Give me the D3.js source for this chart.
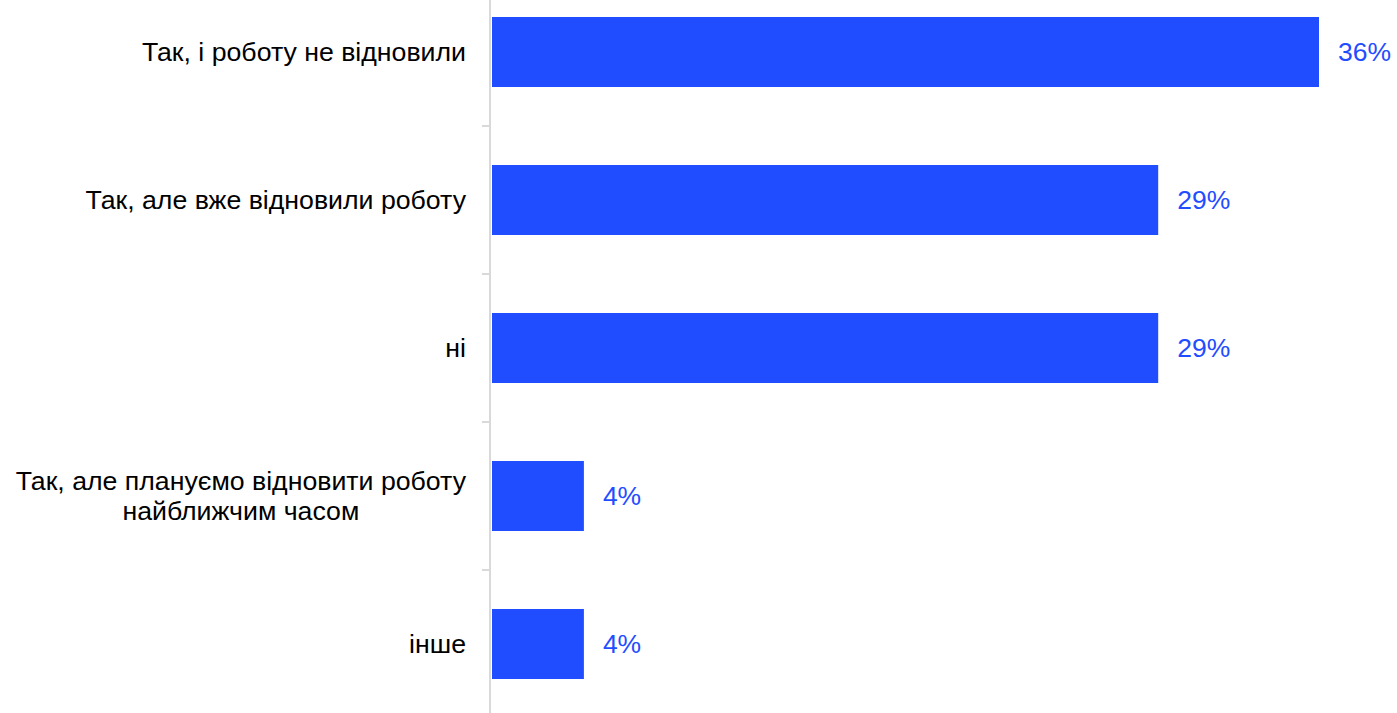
<!DOCTYPE html>
<html>
<head>
<meta charset="utf-8">
<script src="https://cdn.jsdelivr.net/npm/d3@7"></script>
<style>
  html, body { margin: 0; padding: 0; background: #fff; }
  svg { display: block; font-family: "Liberation Sans", Arial, sans-serif; }
</style>
</head>
<body>
<svg id="chart" width="1397" height="713"></svg>
<script>
// Survey answers, top to bottom
const categories = [
  ["Так, і роботу не відновили"],
  ["Так, але вже відновили роботу"],
  ["ні"],
  ["Так, але плануємо відновити роботу", "найближчим часом"],
  ["інше"]
];
const shares = [36, 29, 29, 4, 4];

const W = 1397, H = 713;
const axisX = 490;
const barColor = "#1f4dff";
const labelSize = 26.7;
const valueSize = 26.5;

const svg = d3.select("#chart");

const keys = categories.map((c, i) => i);

const y = d3.scaleBand()
  .domain(keys)
  .range([-22, 718])
  .paddingInner(0.527)
  .paddingOuter(0.2635);

const x = d3.scaleLinear()
  .domain([0, 36])
  .range([axisX + 2, 1319]);

// Bars
svg.append("g")
  .selectAll("rect")
  .data(shares)
  .join("rect")
  .attr("x", x(0))
  .attr("y", (d, i) => y(i))
  .attr("width", d => x(d) - x(0))
  .attr("height", y.bandwidth())
  .attr("fill", barColor);

// Value labels
svg.append("g")
  .selectAll("text")
  .data(shares)
  .join("text")
  .attr("x", d => x(d) + 19)
  .attr("y", (d, i) => y(i) + y.bandwidth() / 2)
  .attr("dy", "0.35em")
  .attr("fill", barColor)
  .style("font-size", valueSize + "px")
  .text(d => d + "%");

// Category axis: vertical line with ticks between bands
const axisG = svg.append("g");
axisG.append("line")
  .attr("x1", axisX).attr("x2", axisX)
  .attr("y1", 0).attr("y2", H)
  .attr("stroke", "#d9d9d9")
  .attr("stroke-width", 2);

axisG.selectAll("line.tick")
  .data(keys.slice(1))
  .join("line")
  .attr("class", "tick")
  .attr("x1", axisX - 8).attr("x2", axisX)
  .attr("y1", i => y(i) - y.step() * y.paddingInner() / 2)
  .attr("y2", i => y(i) - y.step() * y.paddingInner() / 2)
  .attr("stroke", "#d9d9d9")
  .attr("stroke-width", 2);

// Category labels: block right-aligned at the axis, lines centred within it
const lineH = 30;
const lab = svg.append("g")
  .selectAll("text")
  .data(categories)
  .join("text")
  .attr("text-anchor", "middle")
  .attr("fill", "#000")
  .style("font-size", labelSize + "px")
  .attr("transform", (d, i) => `translate(0, ${y(i) + y.bandwidth() / 2})`);

lab.each(function(lines) {
  const t = d3.select(this);
  const n = lines.length;
  lines.forEach((s, k) => {
    t.append("tspan")
      .attr("x", 0)
      .attr("y", (k - (n - 1) / 2) * lineH)
      .attr("dy", "0.35em")
      .text(s);
  });
  const widths = [];
  t.selectAll("tspan").each(function() { widths.push(this.getComputedTextLength()); });
  const maxW = d3.max(widths);
  t.selectAll("tspan").attr("x", 466 - maxW / 2);
});
</script>
</body>
</html>
